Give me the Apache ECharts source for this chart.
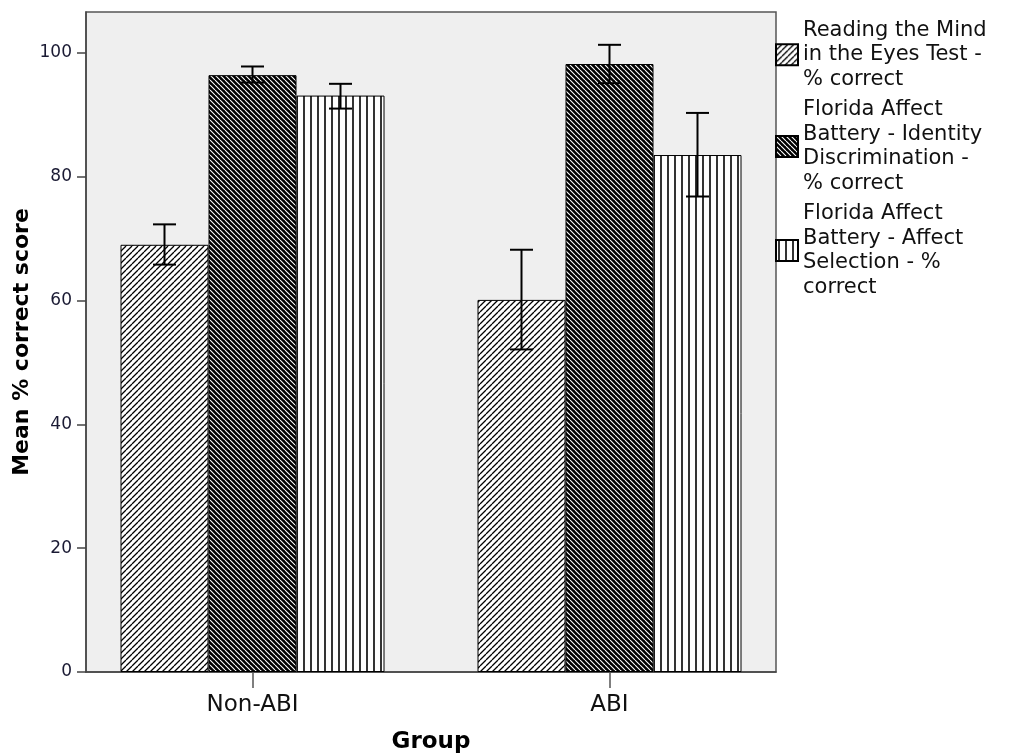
<!DOCTYPE html>
<html>
<head>
<meta charset="utf-8">
<script src="https://cdn.jsdelivr.net/npm/echarts@6/dist/echarts.min.js"></script>
<style>
  html, body { margin: 0; padding: 0; background: #fff; }
  #chart { width: 1012px; height: 753px; }
</style>
</head>
<body>
<div id="chart"></div>
<script>
// categories
const groups = ['Non-ABI', 'ABI'];
// measures (series names) and wrapped legend text
const measures = [
  'Reading the Mind in the Eyes Test - % correct',
  'Florida Affect Battery - Identity Discrimination - % correct',
  'Florida Affect Battery - Affect Selection - % correct'
];
const legendText = [
  'Reading the Mind\nin the Eyes Test -\n% correct',
  'Florida Affect\nBattery - Identity\nDiscrimination -\n% correct',
  'Florida Affect\nBattery - Affect\nSelection - %\ncorrect'
];
// means per measure, one value per group
const meanRmet = [69.0, 60.1];
const meanIdent = [96.4, 98.2];
const meanAffect = [93.1, 83.5];
// error bar low / high per measure
const lowRmet = [65.8, 52.1];
const highRmet = [72.3, 68.2];
const lowIdent = [95.2, 95.1];
const highIdent = [97.8, 101.3];
const lowAffect = [91.0, 76.8];
const highAffect = [95.0, 90.3];
// y ticks
const yTicks = [0, 20, 40, 60, 80, 100];

const means = [meanRmet, meanIdent, meanAffect];
const lows = [lowRmet, lowIdent, lowAffect];
const highs = [highRmet, highIdent, highAffect];

// hatch patterns
function makePattern(kind) {
  const p = kind === 'vert' ? 7 : (kind === 'dark' ? 5 : 6);
  const c = document.createElement('canvas');
  c.width = p;
  c.height = p;
  const ctx = c.getContext('2d');
  ctx.fillStyle = kind === 'dark' ? '#000' : '#fff';
  ctx.fillRect(0, 0, p, p);
  ctx.beginPath();
  if (kind === 'slash') {
    for (let k = -1; k <= 1; k++) {
      ctx.moveTo(k * p, p);
      ctx.lineTo(k * p + p, 0);
    }
    ctx.strokeStyle = '#000';
    ctx.lineWidth = 1.3;
  } else if (kind === 'dark') {
    for (let k = -1; k <= 1; k++) {
      ctx.moveTo(k * p, 0);
      ctx.lineTo(k * p + p, p);
    }
    ctx.strokeStyle = '#fff';
    ctx.lineWidth = 1.1;
  } else {
    ctx.moveTo(3, 0);
    ctx.lineTo(3, p);
    ctx.strokeStyle = '#000';
    ctx.lineWidth = 1.6;
  }
  ctx.stroke();
  return { image: c, repeat: 'repeat' };
}
const patterns = [makePattern('slash'), makePattern('dark'), makePattern('vert')];

const barW = 88;
const yMax = 106.6;
const font = 'DejaVu Sans';

const myChart = echarts.init(document.getElementById('chart'));

let series = [];
for (let i = 0; i < measures.length; i++) {
  series.push({
    name: measures[i],
    type: 'bar',
    xAxisIndex: 1,
    yAxisIndex: 1,
    barWidth: barW,
    barGap: '0%',
    itemStyle: {
      color: patterns[i],
      borderColor: '#000',
      borderWidth: 1
    },
    emphasis: { disabled: true },
    data: means[i]
  });
}
for (let i = 0; i < measures.length; i++) {
  let errData = [];
  for (let g = 0; g < groups.length; g++) {
    errData.push([g, lows[i][g], highs[i][g]]);
  }
  series.push({
    type: 'custom',
    xAxisIndex: 1,
    yAxisIndex: 1,
    z: 5,
    silent: true,
    data: errData,
    renderItem: function (params, api) {
      const off = (i - 1) * barW;
      const lo = api.coord([api.value(0), api.value(1)]);
      const hi = api.coord([api.value(0), api.value(2)]);
      const x = lo[0] + off;
      const cap = 11.5;
      const st = { stroke: '#000', lineWidth: 2 };
      return {
        type: 'group',
        children: [
          { type: 'line', shape: { x1: x, y1: lo[1], x2: x, y2: hi[1] }, style: st },
          { type: 'line', shape: { x1: x - cap, y1: lo[1], x2: x + cap, y2: lo[1] }, style: st },
          { type: 'line', shape: { x1: x - cap, y1: hi[1], x2: x + cap, y2: hi[1] }, style: st }
        ]
      };
    }
  });
}

const option = {
  animation: false,
  textStyle: { fontFamily: font },
  grid: [
    {
      left: 86, top: 12, width: 690, height: 660,
      containLabel: false,
      outerBoundsMode: 'none',
      show: true,
      backgroundColor: '#efefef',
      borderColor: '#555',
      borderWidth: 1.5
    },
    {
      left: 74, top: 12, width: 714, height: 660,
      containLabel: false,
      outerBoundsMode: 'none'
    }
  ],
  legend: {
    orient: 'vertical',
    left: 770,
    top: 13,
    itemWidth: 22,
    itemHeight: 21,
    itemGap: 6,
    icon: 'rect',
    selectedMode: false,
    data: measures,
    formatter: function (name) {
      return legendText[measures.indexOf(name)];
    },
    textStyle: {
      fontFamily: font,
      fontSize: 21,
      lineHeight: 24.5,
      color: '#111'
    }
  },
  xAxis: [
    {
      type: 'value',
      gridIndex: 0,
      min: 0,
      max: 1,
      axisLine: { show: true, lineStyle: { color: '#444', width: 1.5 } },
      axisTick: { show: false },
      axisLabel: { show: false },
      splitLine: { show: false },
      name: 'Group',
      nameLocation: 'middle',
      nameGap: 59,
      nameMoveOverlap: false,
      nameTextStyle: { fontFamily: font, fontSize: 23, fontWeight: 'bold', color: '#000' }
    },
    {
      type: 'category',
      gridIndex: 1,
      data: groups,
      axisLine: { show: false },
      axisTick: { show: true, alignWithLabel: true, length: 16, lineStyle: { color: '#555', width: 1.5 } },
      axisLabel: { fontFamily: font, fontSize: 23, color: '#111', margin: 22 },
      splitLine: { show: false }
    }
  ],
  yAxis: [
    {
      type: 'value',
      gridIndex: 0,
      min: 0,
      max: yMax,
      interval: 20,
      axisLine: { show: true, lineStyle: { color: '#444', width: 1.5 } },
      axisTick: { show: true, length: 9, customValues: yTicks, lineStyle: { color: '#444', width: 1.5 } },
      axisLabel: { fontFamily: font, fontSize: 17, color: '#1a1a33', margin: 14, customValues: yTicks },
      splitLine: { show: false },
      name: 'Mean % correct score',
      nameLocation: 'middle',
      nameGap: 53,
      nameMoveOverlap: false,
      nameTextStyle: { fontFamily: font, fontSize: 22, fontWeight: 'bold', color: '#000' }
    },
    {
      type: 'value',
      gridIndex: 1,
      min: 0,
      max: yMax,
      show: false
    }
  ],
  series: series
};

myChart.setOption(option);
</script>
</body>
</html>
